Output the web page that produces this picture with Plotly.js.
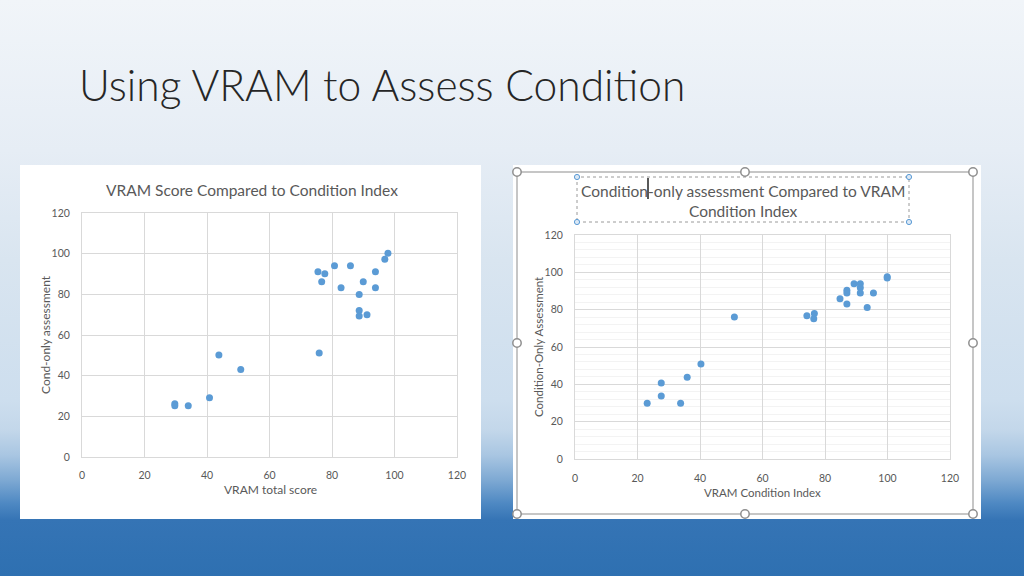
<!DOCTYPE html>
<html>
<head>
<meta charset="utf-8">
<script src="https://cdn.plot.ly/plotly-3.0.1.min.js"></script>
<style>
  html, body { margin: 0; padding: 0; }
  #chart {
    width: 1024px; height: 576px;
    background: linear-gradient(to bottom,
      #f1f5f9 0px, #e6edf5 150px, #d9e5f0 260px, #cddeee 400px,
      #c3d7ea 430px, #a9c6e2 455px, #7ea9d3 480px, #4f89c3 503px,
      #3574b5 520px, #2e70b1 576px);
  }
</style>
</head>
<body>
<div id="chart"></div>
<script>
// ---- Data ----
const leftX = [75.5, 77.7, 76.7, 80.8, 85.9, 82.9, 88.7, 90.0, 93.9, 93.9, 96.9, 97.9, 88.7, 88.7, 91.2, 75.9, 43.8, 50.8, 40.8, 34.0, 29.7, 29.7];
const leftY = [91.1, 90.1, 86.2, 94.0, 94.0, 83.2, 79.9, 86.2, 91.1, 83.2, 97.3, 100.2, 72.1, 69.3, 70.0, 51.2, 50.2, 43.0, 29.1, 25.2, 26.2, 25.2];

const rightX = [23.1, 27.6, 27.6, 33.8, 35.9, 40.3, 51.0, 74.2, 76.6, 76.4, 84.8, 87.0, 87.0, 87.0, 89.3, 91.3, 91.3, 91.3, 93.5, 95.5, 99.9, 99.9];
const rightY = [29.8, 40.7, 33.8, 29.8, 43.8, 50.9, 76.1, 76.8, 78.0, 75.2, 85.9, 83.0, 90.4, 88.9, 93.9, 93.9, 91.8, 88.9, 81.1, 88.9, 97.7, 97.0];

const tickVals = [0, 20, 40, 60, 80, 100, 120];
const tickText = ['0', '20', '40', '60', '80', '100', '120'];

const slideTitle = 'Using VRAM to Assess Condition';
const leftTitle = 'VRAM Score Compared to Condition Index';
const leftXTitle = 'VRAM total score';
const leftYTitle = 'Cond-only assessment';
const rightTitle = 'Condition-only assessment Compared to VRAM<br>Condition Index';
const rightXTitle = 'VRAM Condition Index';
const rightYTitle = 'Condition-Only Assessment';

// ---- Layout helpers ----
const W = 1024, H = 576;
const px = v => v / W;
const py = v => 1 - v / H;
const FONT = 'Lato, "Open Sans", sans-serif';
const TXT = '#595959';
const GRID = '#d9d9d9';
const MARK = '#5b9bd5';

function axis(domain, anchor, extra) {
  return Object.assign({
    domain: domain, anchor: anchor, range: [0, 120],
    tickmode: 'array', tickvals: tickVals, ticktext: tickText,
    showgrid: true, gridcolor: GRID, gridwidth: 1,
    zeroline: false, showline: true, linecolor: GRID, mirror: true,
    ticks: '', tickfont: {family: FONT, size: 10.5, color: TXT},
    fixedrange: true
  }, extra || {});
}

const traces = [
  {x: leftX, y: leftY, type: 'scatter', mode: 'markers', xaxis: 'x', yaxis: 'y',
   marker: {color: MARK, size: 7}, hoverinfo: 'x+y'},
  {x: rightX, y: rightY, type: 'scatter', mode: 'markers', xaxis: 'x2', yaxis: 'y2',
   marker: {color: MARK, size: 7}, hoverinfo: 'x+y'}
];

function circle(cx, cy, r, fill, line, lw) {
  return {type: 'circle', xref: 'paper', yref: 'paper', layer: 'above',
    x0: px(cx - r), x1: px(cx + r), y0: py(cy + r), y1: py(cy - r),
    fillcolor: fill, line: {color: line, width: lw}};
}
function rect(x0, y0, x1, y1, fill, line, lw, dash) {
  return {type: 'rect', xref: 'paper', yref: 'paper', layer: 'below',
    x0: px(x0), x1: px(x1), y0: py(y1), y1: py(y0),
    fillcolor: fill, line: {color: line || 'rgba(0,0,0,0)', width: lw || 0, dash: dash || 'solid'}};
}

const shapes = [
  rect(20, 165, 481, 519, '#ffffff'),
  rect(513, 165, 981, 519, '#ffffff'),
  Object.assign(rect(517, 172, 973, 514, 'rgba(0,0,0,0)', '#b4b4b4', 1.5), {layer: 'above'}),
  Object.assign(rect(577, 177, 909, 222, 'rgba(0,0,0,0)', '#9a9a9a', 1, 'dot'), {layer: 'above'}),
  {type: 'line', xref: 'paper', yref: 'paper', layer: 'above',
   x0: px(648), x1: px(648), y0: py(178), y1: py(199), line: {color: '#222222', width: 1.5}}
];
[[517,172],[745,172],[973,172],[517,343],[973,343],[517,514],[745,514],[973,514]].forEach(p =>
  shapes.push(circle(p[0], p[1], 4.2, '#ffffff', '#8f8f8f', 1.5)));
[[577,177],[909,177],[577,222],[909,222]].forEach(p =>
  shapes.push(circle(p[0], p[1], 2.6, '#dbe8f5', '#5b9bd5', 1)));

function ann(text, x, y, size, opts) {
  return Object.assign({text: text, xref: 'paper', yref: 'paper', x: px(x), y: py(y),
    showarrow: false, xanchor: 'center', yanchor: 'middle',
    font: {family: FONT, size: size, color: TXT}}, opts || {});
}

const annotations = [
  ann(slideTitle, 77, 84, 42.5, {xanchor: 'left', font: {family: FONT, size: 42.5, color: '#262626', weight: 300}}),
  ann(leftTitle, 252, 190, 15.5),
  ann(leftXTitle, 270, 489, 12),
  ann(leftYTitle, 45, 335, 12, {textangle: -90}),
  ann(rightTitle, 743, 200.5, 15.5),
  ann(rightXTitle, 762, 492, 11.5),
  ann(rightYTitle, 538, 347, 11.5, {textangle: -90})
];

const layout = {
  width: W, height: H,
  margin: {l: 0, r: 0, t: 0, b: 0},
  paper_bgcolor: 'rgba(0,0,0,0)', plot_bgcolor: 'rgba(0,0,0,0)',
  showlegend: false,
  font: {family: FONT, color: TXT},
  xaxis: axis([px(82), px(457)], 'y', {ticklabelstandoff: 8}),
  yaxis: axis([py(457), py(213)], 'x', {ticklabelstandoff: 9}),
  xaxis2: axis([px(575), px(950)], 'y2', {ticklabelstandoff: 9}),
  yaxis2: axis([py(459), py(235)], 'x2', {ticklabelstandoff: 9,
    minor: {dtick: 4, showgrid: true, gridcolor: '#f3f3f3', gridwidth: 1, ticks: ''}}),
  shapes: shapes,
  annotations: annotations
};

Plotly.newPlot('chart', traces, layout, {displayModeBar: false, staticPlot: true});
</script>
</body>
</html>
